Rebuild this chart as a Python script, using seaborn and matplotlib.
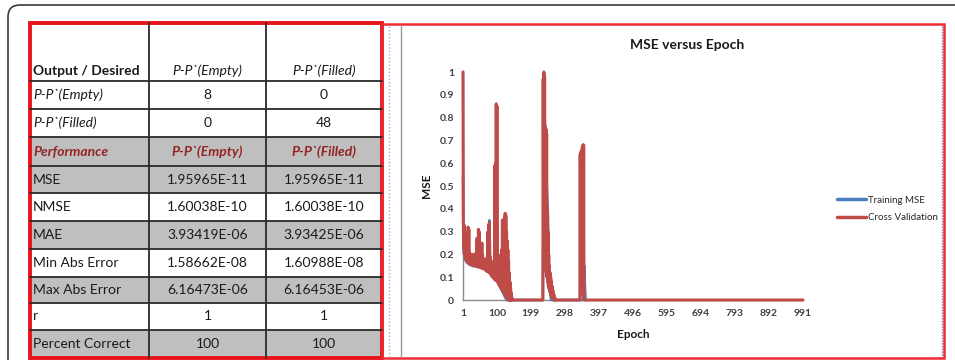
import numpy as np
import pandas as pd
import matplotlib.pyplot as plt
from matplotlib.patches import Rectangle, FancyBboxPatch
import seaborn as sns

# ---- table data ----
col_headers = ["Output / Desired", "P-P`(Empty)", "P-P`(Filled)"]
row_labels = ["P-P`(Empty)", "P-P`(Filled)", "Performance", "MSE", "NMSE", "MAE",
              "Min Abs Error", "Max Abs Error", "r", "Percent Correct"]
empty_vals = ["8", "0", "P-P`(Empty)", "1.95965E-11", "1.60038E-10", "3.93419E-06",
              "1.58662E-08", "6.16473E-06", "1", "100"]
filled_vals = ["0", "48", "P-P`(Filled)", "1.95965E-11", "1.60038E-10", "3.93425E-06",
               "1.60988E-08", "6.16453E-06", "1", "100"]

# ---- chart data ----
train_epochs = [1, 2, 3, 5, 8, 12, 20, 30, 45, 60, 70, 75, 78, 81, 90, 100, 110, 118, 124, 128,
                234, 238, 243, 249, 253, 258, 350, 355, 357, 359]
train_mse = [0.55, 0.24, 0.21, 0.19, 0.175, 0.165, 0.155, 0.15, 0.145, 0.14, 0.13, 0.125, 0.35, 0.12,
             0.105, 0.085, 0.055, 0.03, 0.012, 0.0,
             0.0, 0.9, 0.6, 0.37, 0.05, 0.0, 0.0, 0.15, 0.05, 0.0]

cv_early = [1.0, 0.34, 0.23, 0.33, 0.2, 0.3, 0.19, 0.24, 0.18, 0.21,
            0.17, 0.2, 0.17, 0.22, 0.165, 0.32, 0.165, 0.31, 0.16, 0.21,
            0.16, 0.2, 0.155, 0.19, 0.155, 0.2, 0.155, 0.19, 0.15, 0.2,
            0.15, 0.19, 0.15, 0.2, 0.15, 0.19, 0.15, 0.2, 0.15, 0.21,
            0.15, 0.27, 0.15, 0.25, 0.145, 0.31, 0.145, 0.3, 0.145, 0.22,
            0.145, 0.2, 0.145, 0.21, 0.14, 0.25, 0.14, 0.2, 0.14, 0.18,
            0.14, 0.18, 0.135, 0.17, 0.135, 0.18, 0.13, 0.17, 0.13, 0.18,
            0.125, 0.17, 0.125, 0.3, 0.125, 0.33, 0.12, 0.34, 0.12, 0.19,
            0.115, 0.17, 0.11, 0.17, 0.105, 0.16, 0.1, 0.16, 0.1, 0.16,
            0.095, 0.17, 0.09, 0.59, 0.09, 0.6, 0.085, 0.86, 0.085, 0.85,
            0.08, 0.2, 0.075, 0.19, 0.07, 0.18, 0.065, 0.18, 0.06, 0.19,
            0.055, 0.2, 0.05, 0.22, 0.045, 0.35, 0.04, 0.35, 0.035, 0.3,
            0.03, 0.36, 0.025, 0.38, 0.02, 0.37, 0.015, 0.3, 0.01, 0.26,
            0.005, 0.22, 0.0, 0.17, 0.0, 0.12, 0.0, 0.08, 0.0, 0.05,
            0.0, 0.03, 0.0, 0.01, 0.0, 0.0, 0.0, 0.0, 0.0, 0.0]
cv_early_epochs = list(range(1, 151))

cv_spike2_epochs = [232, 234, 235, 236, 237, 238, 239, 240, 241, 242, 243, 244, 245, 246, 247, 248,
                    249, 250, 251, 252, 253, 254, 255, 256, 257, 258, 259, 260, 261, 262, 263, 264,
                    265, 266, 267, 268, 269, 270]
cv_spike2 = [0.0, 0.0, 0.97, 0.3, 1.0, 0.25, 0.98, 0.2, 0.76, 0.15, 0.75, 0.12, 0.73, 0.1, 0.4, 0.08,
             0.3, 0.06, 0.2, 0.05, 0.15, 0.04, 0.12, 0.03, 0.1, 0.02, 0.08, 0.015, 0.06, 0.01, 0.045, 0.005,
             0.03, 0.0, 0.02, 0.0, 0.01, 0.0]

cv_spike3_epochs = [340, 342, 343, 344, 345, 346, 347, 348, 349, 350, 351, 352, 353, 354, 355, 993]
cv_spike3 = [0.0, 0.0, 0.64, 0.1, 0.65, 0.08, 0.64, 0.05, 0.67, 0.03, 0.68, 0.02, 0.68, 0.0, 0.0, 0.0]

x_ticks = [1, 100, 199, 298, 397, 496, 595, 694, 793, 892, 991]
y_ticks = [0, 0.1, 0.2, 0.3, 0.4, 0.5, 0.6, 0.7, 0.8, 0.9, 1.0]
y_tick_labels = ["0", "0.1", "0.2", "0.3", "0.4", "0.5", "0.6", "0.7", "0.8", "0.9", "1"]

sns.set_style("white")
plt.rcParams["font.family"] = ["Lato", "DejaVu Sans"]

W, H = 955, 360
fig = plt.figure(figsize=(W / 100, H / 100), dpi=100)

# full-figure pixel axes for frame and table
bg = fig.add_axes([0, 0, 1, 1])
bg.set_xlim(0, W)
bg.set_ylim(H, 0)
bg.axis("off")

bg.add_patch(FancyBboxPatch((8, 5), 1100, 500, boxstyle="round,pad=0,rounding_size=12",
                            fill=False, edgecolor="#3a3a3a", linewidth=1.2))

# table grid
col_x = [30, 149, 266, 382]
row_y = [23, 81, 109, 137, 166, 193, 221, 249, 277, 303, 330, 358]
row_fill = ["white", "white", "white", "#bfbfbf", "#bfbfbf", "white", "#bfbfbf",
            "white", "#bfbfbf", "white", "#bfbfbf"]
dark_red = "#952424"
txt = "#1a1a1a"
fs = 10

for i in range(len(row_y) - 1):
    bg.add_patch(Rectangle((col_x[0], row_y[i]), col_x[-1] - col_x[0], row_y[i + 1] - row_y[i],
                           facecolor=row_fill[i], edgecolor="none"))
for y in row_y[1:-1]:
    bg.plot([col_x[0], col_x[-1]], [y, y], color="#2a2a2a", lw=1.3)
for x in col_x[1:-1]:
    bg.plot([x, x], [row_y[0], row_y[-1]], color="#2a2a2a", lw=1.3)

# header row (text sits at the bottom of the tall cell)
hy = row_y[1] - 10
bg.text(col_x[0] + 3, hy, col_headers[0], ha="left", va="center", fontsize=fs,
        fontweight="bold", color=txt)
for j in (1, 2):
    bg.text((col_x[j] + col_x[j + 1]) / 2, hy, col_headers[j], ha="center", va="center",
            fontsize=fs, style="italic", color=txt)

for i, lab in enumerate(row_labels):
    cy = (row_y[i + 1] + row_y[i + 2]) / 2
    if lab == "Performance":
        kw = dict(fontweight="bold", style="italic", color=dark_red)
    elif i < 2:
        kw = dict(style="italic", color=txt)
    else:
        kw = dict(color=txt)
    bg.text(col_x[0] + 3, cy, lab, ha="left", va="center", fontsize=fs, **kw)
    vkw = kw if lab == "Performance" else dict(color=txt)
    bg.text((col_x[1] + col_x[2]) / 2, cy, empty_vals[i], ha="center", va="center", fontsize=fs, **vkw)
    bg.text((col_x[2] + col_x[3]) / 2, cy, filled_vals[i], ha="center", va="center", fontsize=fs, **vkw)

# red borders
bg.add_patch(Rectangle((col_x[0], row_y[0]), col_x[-1] - col_x[0], row_y[-1] - row_y[0],
                       fill=False, edgecolor="#e8141b", linewidth=2.8))
bg.add_patch(Rectangle((382, 24), 944 - 382, 358 - 24, fill=False, edgecolor="#ee2a33", linewidth=1.8))
bg.plot([389, 389], [26, 357], color="#8fb4e3", lw=1, ls=(0, (1, 1.5)))
bg.plot([400.5, 400.5], [26, 357], color="#9a9a9a", lw=1)
bg.plot([941.5, 941.5], [26, 357], color="#7f7f9f", lw=1, ls=(0, (1, 1)))

# chart
ax = fig.add_axes([463 / W, (H - 300) / H, 340 / W, 228 / H])
ax.set_facecolor("none")
sns.lineplot(x=train_epochs, y=train_mse, color="#4a7ebb", linewidth=1.8, label="Training MSE", ax=ax)
cv_epochs = cv_early_epochs + cv_spike2_epochs + cv_spike3_epochs
cv_mse = cv_early + cv_spike2 + cv_spike3
sns.lineplot(x=cv_epochs, y=cv_mse, color="#be4b48", linewidth=2.2, label="Cross Validation", ax=ax)
for k, ln in enumerate(ax.lines):
    ln.set_clip_on(False)
    ln.set_zorder(3 + k)

ax.set_xlim(1, 993)
ax.set_ylim(0, 1)
ax.set_xticks(x_ticks)
ax.set_xticklabels([str(t) for t in x_ticks])
ax.set_yticks(y_ticks)
ax.set_yticklabels(y_tick_labels)
for s in ("top", "right"):
    ax.spines[s].set_visible(False)
for s in ("left", "bottom"):
    ax.spines[s].set_color("#8c8c8c")
    ax.spines[s].set_linewidth(1)
ax.tick_params(axis="both", which="both", direction="out", colors="#8c8c8c",
               labelcolor="#404040", labelsize=7.5, length=3, width=1)
for lbl in ax.get_xticklabels() + ax.get_yticklabels():
    lbl.set_fontweight("bold")
ax.set_xlabel("Epoch", fontsize=8.5, fontweight="bold", color="#1a1a1a")
ax.set_ylabel("MSE", fontsize=8.5, fontweight="bold", color="#1a1a1a")
ax.xaxis.set_label_coords(0.5, -0.125)
ax.yaxis.set_label_coords(-0.09, 0.5)

fig.text(687 / W, 1 - 45 / H, "MSE versus Epoch", ha="center", va="center",
         fontsize=10, fontweight="bold", color="#1a1a1a")

leg = ax.legend(loc="center left", bbox_to_anchor=(828 / W, 1 - 209 / H), bbox_transform=fig.transFigure,
                frameon=False, fontsize=7, handlelength=3, handletextpad=0.2, labelspacing=0.9)
for h in leg.get_lines():
    h.set_linewidth(2.5)

fig.savefig("out.png", dpi=100)
